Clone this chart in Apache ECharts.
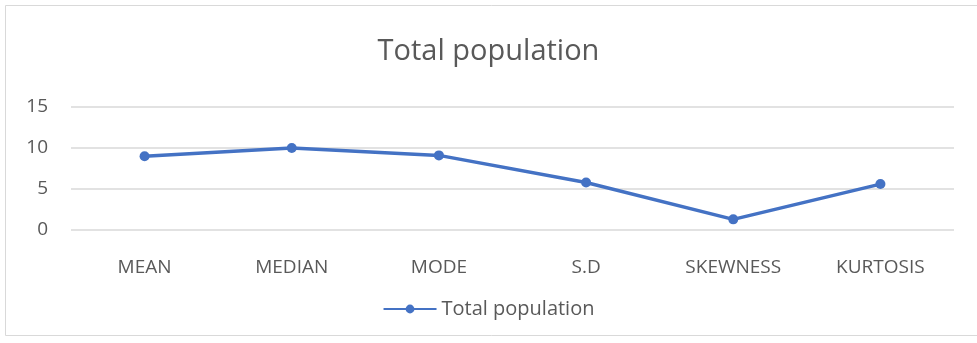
<!DOCTYPE html>
<html>
<head>
<meta charset="utf-8">
<script src="https://cdn.jsdelivr.net/npm/echarts@6/dist/echarts.min.js"></script>
<style>
  html, body { margin: 0; padding: 0; background: #ffffff; }
  #chart { width: 977px; height: 343px; }
</style>
</head>
<body>
<div id="chart"></div>
<script>
// Descriptive statistics of the total population
const categories = ['MEAN', 'MEDIAN', 'MODE', 'S.D', 'SKEWNESS', 'KURTOSIS'];
const totalPopulation = [9.0, 10.0, 9.1, 5.8, 1.3, 5.6];
const yTicks = [0, 5, 10, 15];

const chart = echarts.init(document.getElementById('chart'));
const textColor = '#595959';
const fontFamily = '"Open Sans", "Noto Sans", sans-serif';

chart.setOption({
  animation: false,
  backgroundColor: '#ffffff',
  graphic: [{
    type: 'rect',
    shape: { x: 5.5, y: 5.5, width: 980, height: 330 },
    style: { fill: 'none', stroke: '#d9d9d9', lineWidth: 1 },
    silent: true
  }],
  title: {
    text: 'Total population',
    left: 'center',
    top: 32,
    textStyle: { color: textColor, fontSize: 29, fontWeight: 'normal', fontFamily: fontFamily }
  },
  legend: {
    top: 294,
    left: 'center',
    itemWidth: 53,
    itemHeight: 11,
    itemGap: 10,
    textStyle: { color: textColor, fontSize: 20, fontFamily: fontFamily }
  },
  grid: { left: 71, right: 23, top: 107, bottom: 113 },
  xAxis: {
    type: 'category',
    data: categories,
    boundaryGap: true,
    axisLine: { show: false },
    axisTick: { show: false },
    axisLabel: { color: textColor, fontSize: 19, margin: 28, fontFamily: fontFamily }
  },
  yAxis: {
    type: 'value',
    min: yTicks[0],
    max: yTicks[yTicks.length - 1],
    interval: 5,
    axisLine: { show: false },
    axisTick: { show: false },
    axisLabel: { color: textColor, fontSize: 19, margin: 23, fontFamily: fontFamily },
    splitLine: { lineStyle: { color: '#d9d9d9', width: 1.5 } }
  },
  series: [{
    name: 'Total population',
    type: 'line',
    data: totalPopulation,
    symbol: 'circle',
    symbolSize: 10,
    color: '#4472C4',
    lineStyle: { width: 3.5, color: '#4472C4' },
    itemStyle: { color: '#4472C4' }
  }]
});
</script>
</body>
</html>
